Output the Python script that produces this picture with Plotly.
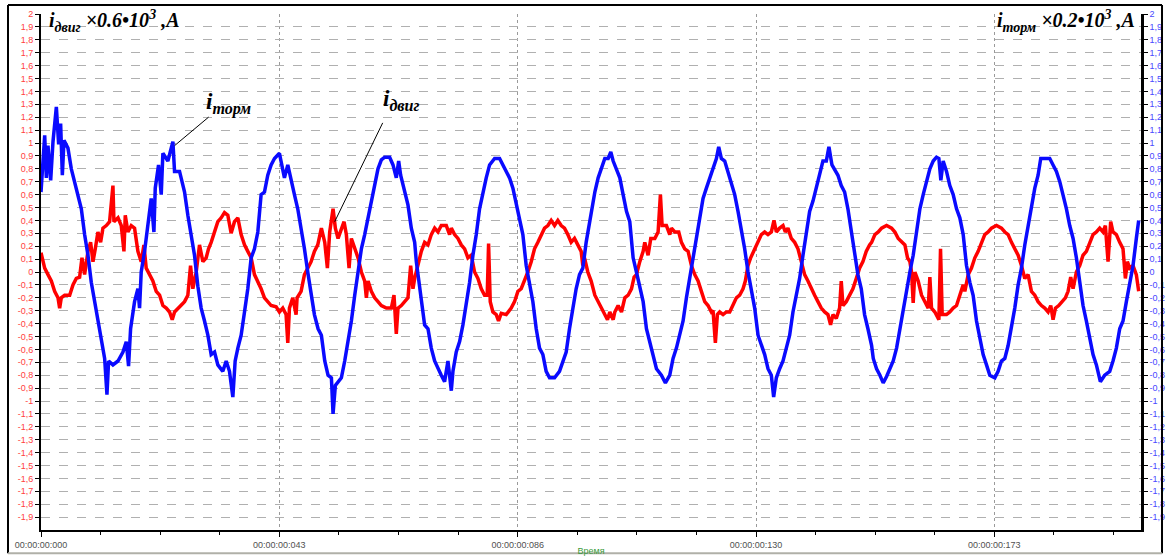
import plotly.graph_objects as go

# ---- data (time in ms, values in relative units) ----
t_torm = [0.0, 0.67, 0.97, 1.27, 1.76, 2.18, 2.79, 3.21, 3.57, 3.88, 4.18, 4.9, 5.51, 6.12, 6.72, 7.33, 7.93, 8.54, 9.14, 9.75,
          10.35, 10.96, 11.57, 11.99, 12.29, 13.08, 14.0, 14.9, 15.5, 15.92, 16.29, 17.01, 17.62, 17.92, 18.22, 18.83, 19.44,
          20.04, 20.53, 20.77, 21.37, 21.86, 22.16, 23.07, 23.98, 24.28, 25.19, 26.1, 26.7, 27.31, 27.91, 28.52, 29.12, 29.73,
          30.34, 30.94, 31.55, 32.15, 33.06, 33.67, 34.27, 34.88, 35.3, 35.79, 36.39, 37.0, 37.6, 38.21, 38.81, 39.42, 40.02,
          40.63, 41.23, 41.84, 42.45, 43.35, 44.26, 44.87, 45.47, 46.08, 46.68, 47.29, 47.9, 48.5, 49.11, 49.71, 50.38,
          50.98, 51.59, 52.19, 52.8, 53.1, 53.52, 54.01, 54.61, 55.22, 55.82, 56.43, 57.04, 57.64, 58.25, 58.85, 59.46, 60.06,
          60.67, 61.27, 61.88, 62.49, 63.39, 64.0, 64.6, 65.03, 65.39, 66.12, 66.72, 67.33, 67.94, 68.24, 68.54, 69.15, 69.75,
          70.36, 70.96, 71.57, 72.17, 72.78, 73.38, 73.99, 74.6, 74.9, 75.5, 76.11, 76.71, 77.32, 77.93, 78.53, 79.14, 79.74,
          80.35, 80.95, 81.56, 82.47, 83.38, 83.98, 84.59, 85.19, 85.8, 86.4, 87.01, 87.61, 88.22, 88.82, 89.43, 90.04, 90.64,
          91.25, 91.85, 92.46, 93.37, 94.27, 94.88, 95.49, 96.09, 96.7, 97.3, 97.91, 98.51, 99.12, 99.72,
          100.7, 101.3, 101.9, 102.51, 103.12, 103.6, 104.03, 104.63, 105.24, 105.84, 106.45, 107.05, 107.66, 108.26, 108.87,
          109.48, 110.08, 110.69, 111.29, 111.9, 112.8, 113.53, 114.32, 114.92, 115.53, 116.13, 116.74, 117.35, 117.95, 118.56,
          119.16, 119.77, 120.37, 120.98, 121.59, 122.19, 122.8, 123.22, 123.7, 124.31, 124.92, 125.52, 126.13, 126.73, 127.34,
          127.94, 128.55, 129.15, 129.76, 130.37, 130.97, 131.58, 132.18, 132.79, 133.21, 133.7, 134.3, 134.91, 135.51, 136.12,
          136.72, 137.33, 137.93, 138.54, 139.14, 139.75, 140.36, 140.96, 141.57, 142.17, 142.78, 143.26, 143.81, 144.29, 144.9,
          145.5, 146.11, 146.71, 147.32, 147.92, 148.53, 149.14, 149.74, 150.35,
          151.02, 151.32, 151.92, 152.53, 153.13, 153.74, 154.35, 154.95, 155.56, 156.16, 156.77, 157.37, 157.98, 158.58,
          159.19, 159.8, 160.4, 161.01, 161.61, 162.22, 162.82, 163.25, 163.61, 164.03, 164.64, 165.24, 165.85, 166.46, 167.06,
          167.67, 168.27, 168.88, 169.48, 170.09, 170.69, 171.3, 171.91, 172.51, 173.42, 174.02, 174.63, 175.24, 175.84, 176.45,
          177.05, 177.66, 178.26, 178.87, 179.47, 180.08, 180.69, 181.29, 181.77, 182.5, 183.41, 184.01, 184.62, 185.23, 185.83,
          186.44, 187.04, 187.65, 188.25, 188.86, 189.46, 190.07, 190.68, 191.28, 191.89, 192.61, 193.4, 194.31, 194.91, 195.52,
          196.13, 196.73, 197.34, 197.94, 198.55, 199.15, 199.58]
i_torm = [0.62, 1.06, 0.73, 0.98, 0.71, 1.01, 1.28, 0.99, 1.15, 0.75, 1.02, 0.96, 0.80, 0.70, 0.60, 0.49, 0.29, 0.13, -0.08, -0.23,
          -0.36, -0.49, -0.67, -0.95, -0.69, -0.72, -0.69, -0.62, -0.54, -0.73, -0.44, -0.23, -0.13, -0.28, 0.0, 0.16, 0.36,
          0.57, 0.31, 0.65, 0.83, 0.60, 0.92, 0.86, 1.01, 0.78, 0.78, 0.62, 0.44, 0.29, 0.13, -0.11, -0.28, -0.38,
          -0.49, -0.64, -0.62, -0.72, -0.77, -0.69, -0.77, -0.97, -0.69, -0.59, -0.49, -0.31, -0.13, 0.11, 0.18, 0.31, 0.60,
          0.62, 0.75, 0.83, 0.88, 0.92, 0.73, 0.83, 0.70, 0.60, 0.49, 0.34, 0.18, 0.0, -0.18, -0.33, -0.44,
          -0.49, -0.69, -0.80, -0.82, -1.10, -0.88, -0.85, -0.82, -0.69, -0.54, -0.38, -0.18, 0.0, 0.18, 0.29, 0.42, 0.55,
          0.70, 0.80, 0.87, 0.89, 0.89, 0.83, 0.73, 0.86, 0.75, 0.62, 0.52, 0.34, 0.23, 0.08, -0.02, -0.26, -0.41,
          -0.44, -0.59, -0.69, -0.75, -0.80, -0.85, -0.69, -0.92, -0.77, -0.62, -0.54, -0.41, -0.26, -0.08, 0.13, 0.29, 0.49,
          0.62, 0.73, 0.83, 0.88, 0.88, 0.83, 0.78, 0.73, 0.65, 0.52, 0.39, 0.29, 0.05, -0.10, -0.23, -0.44, -0.59,
          -0.64, -0.77, -0.82, -0.82, -0.77, -0.69, -0.62, -0.44, -0.28, -0.13, -0.02, 0.03, 0.23, 0.39,
          0.62, 0.73, 0.80, 0.88, 0.88, 0.93, 0.86, 0.80, 0.73, 0.60, 0.47, 0.39, 0.11, 0.0, -0.13,
          -0.23, -0.44, -0.54, -0.64, -0.75, -0.80, -0.86, -0.80, -0.67, -0.59, -0.49, -0.38, -0.20, -0.05, 0.13,
          0.29, 0.44, 0.57, 0.65, 0.73, 0.80, 0.88, 0.97, 0.88, 0.86, 0.78, 0.70, 0.60, 0.47, 0.34,
          0.18, 0.0, -0.15, -0.28, -0.49, -0.57, -0.64, -0.75, -0.80, -0.97, -0.82, -0.75, -0.69, -0.59, -0.49,
          -0.31, -0.18, -0.05, 0.13, 0.29, 0.47, 0.55, 0.65, 0.75, 0.86, 0.86, 0.97, 0.83, 0.80, 0.75,
          0.67, 0.62, 0.49, 0.31, 0.16, -0.02, -0.13, -0.33, -0.44,
          -0.57, -0.67, -0.75, -0.80, -0.86, -0.81, -0.75, -0.69, -0.59, -0.44, -0.28, -0.15, 0.0, 0.13,
          0.29, 0.49, 0.60, 0.70, 0.80, 0.86, 0.89, 0.88, 0.71, 0.86, 0.78, 0.67, 0.60, 0.49, 0.42,
          0.29, 0.05, -0.08, -0.18, -0.38, -0.51, -0.64, -0.72, -0.80, -0.82, -0.77, -0.69, -0.67, -0.57, -0.44,
          -0.28, -0.10, 0.03, 0.21, 0.36, 0.49, 0.65, 0.75, 0.88, 0.88, 0.88, 0.83, 0.78, 0.70, 0.60,
          0.49, 0.36, 0.26, 0.11, -0.08, -0.26, -0.38, -0.51, -0.64, -0.72, -0.85, -0.80, -0.77, -0.69, -0.59,
          -0.44, -0.38, -0.23, -0.08, 0.05, 0.26, 0.40]

t_dvig = [0.0, 0.67, 1.27, 1.88, 2.48, 3.09, 3.39, 3.69, 4.3, 5.21, 5.81, 6.42, 7.02, 7.45, 7.93, 8.54, 9.02, 9.45, 9.87,
          10.35, 10.84, 11.26, 11.87, 12.47, 13.08, 13.26, 14.0, 14.59, 15.08, 15.32, 15.8, 16.41, 17.01, 17.32, 17.62, 18.22,
          18.71, 19.13, 19.74, 20.34, 20.95, 21.56, 22.16, 22.77, 23.37, 23.86, 24.28, 24.89, 25.49, 26.1, 26.7, 27.19, 27.61,
          28.22, 28.82, 29.43, 30.03, 30.46, 30.94, 31.55, 32.15, 32.76, 33.36, 33.97, 34.57, 35.18, 35.79, 36.39, 37.0, 37.6,
          38.21, 38.81, 39.42, 40.02, 40.63, 41.23, 41.84, 42.75, 43.35, 43.96, 44.56, 44.87, 45.17, 45.78, 46.38, 46.56, 47.29,
          47.9, 48.5, 49.11, 49.71, 50.32,
          50.98, 51.59, 52.07, 52.49, 53.1, 53.52, 54.01, 54.61, 55.1, 55.52, 56.01, 56.43, 57.04, 57.64, 58.25, 58.85, 59.16,
          59.46, 60.06, 60.67, 61.27, 61.88, 62.79, 63.7, 64.18, 64.6, 64.91, 65.51, 66.12, 66.72, 67.21, 67.63, 67.94, 68.54,
          69.15, 69.75, 70.36, 70.96, 71.57, 72.17, 72.78, 73.69, 74.29, 74.6, 75.2, 75.81, 76.41, 77.02, 77.62, 78.23, 78.83,
          79.44, 80.05, 80.65, 81.13, 81.38, 81.68, 82.16, 82.77, 83.19, 83.68, 84.59, 85.49, 86.1, 86.71, 87.31, 87.92, 88.52,
          89.13, 89.73, 90.34, 90.94, 91.55, 92.16, 92.76, 93.37, 93.97, 94.58, 95.18, 95.79, 96.39, 97.0, 97.6, 98.21, 98.51,
          98.82, 99.42, 100.03,
          100.7, 101.3, 101.9, 102.51, 103.0, 103.42, 104.03, 104.33, 104.93, 105.54, 106.15, 106.75, 107.36, 107.84, 108.26,
          108.87, 109.48, 109.78, 110.38, 110.87, 111.6, 112.2, 112.62, 112.93, 113.71, 114.32, 114.62, 115.23, 115.95, 116.44,
          117.04, 117.65, 118.26, 118.86, 119.47, 120.07, 120.68, 121.28, 121.89, 122.19, 122.61, 122.98, 123.4, 124.01, 124.61,
          125.22, 125.82, 126.43, 127.03, 127.64, 128.06, 128.55, 129.03, 129.76, 130.37, 130.97, 131.58, 132.18, 132.79, 133.27,
          133.7, 134.3, 134.91, 135.33, 135.81, 136.42, 137.03, 137.63, 138.24, 138.84, 139.45, 140.05, 140.66, 141.26, 141.87,
          142.48, 143.08, 143.56, 143.99, 144.59, 145.2, 145.5, 145.81, 146.41, 147.02, 147.62, 148.23, 148.83, 149.44, 150.04,
          150.65,
          151.02, 151.62, 152.23, 152.83, 153.74, 154.65, 155.25, 155.86, 156.47, 157.07, 157.55, 157.98, 158.28, 158.58, 158.89,
          159.49, 160.1, 160.7, 161.31, 161.61, 161.91, 162.52, 163.25, 163.55, 163.85, 164.64, 165.24, 165.85, 166.46, 167.06,
          167.67, 167.97, 168.58, 169.18, 169.79, 170.39, 171.0, 171.6, 172.21, 172.81, 173.72, 174.63, 175.24, 175.84, 176.45,
          177.05, 177.66, 178.26, 178.87, 179.47, 180.08, 180.69, 181.29, 181.9, 182.5, 183.11, 183.59, 184.01, 184.44, 185.04,
          185.65, 186.25, 186.74, 187.22, 187.65, 188.25, 188.86, 189.46, 190.07, 190.68, 191.28, 191.89, 192.49, 193.1, 193.52,
          194.01, 194.49, 194.91, 195.52, 196.13, 196.73, 197.16, 197.52, 197.94, 198.55, 199.15, 199.58]
i_dvig = [0.15, 0.03, -0.02, -0.07, -0.15, -0.20, -0.28, -0.20, -0.18, -0.18, -0.10, -0.05, -0.04, 0.11, -0.02, 0.16, 0.23, 0.08, 0.18,
          0.31, 0.23, 0.34, 0.36, 0.39, 0.67, 0.39, 0.42, 0.36, 0.16, 0.44, 0.31, 0.36, 0.34, 0.23, 0.16, 0.08,
          0.21, 0.03, -0.02, -0.07, -0.15, -0.18, -0.26, -0.28, -0.31, -0.37, -0.31, -0.28, -0.26, -0.23, -0.18, 0.05, -0.13,
          0.0, 0.21, 0.08, 0.11, 0.18, 0.23, 0.31, 0.39, 0.42, 0.46, 0.44, 0.30, 0.39, 0.42, 0.29, 0.21, 0.16,
          0.11, -0.02, -0.07, -0.13, -0.20, -0.23, -0.26, -0.27, -0.31, -0.28, -0.33, -0.55, -0.28, -0.20, -0.33, -0.20, -0.15,
          -0.02, 0.03, 0.08, 0.16, 0.21,
          0.34, 0.23, 0.03, 0.31, 0.49, 0.34, 0.26, 0.34, 0.39, 0.29, 0.03, 0.26, 0.18, 0.11, 0.0, -0.07, -0.20,
          -0.07, -0.15, -0.20, -0.23, -0.26, -0.28, -0.28, -0.18, -0.48, -0.28, -0.26, -0.23, -0.20, 0.05, -0.13, -0.05, 0.05,
          0.16, 0.23, 0.21, 0.29, 0.34, 0.31, 0.36, 0.36, 0.29, 0.34, 0.29, 0.26, 0.21, 0.18, 0.11, 0.13, 0.0,
          -0.05, -0.13, -0.18, -0.18, 0.22, -0.23, -0.31, -0.33, -0.38, -0.32, -0.33, -0.28, -0.23, -0.15, -0.13, -0.07, 0.0,
          0.08, 0.18, 0.23, 0.29, 0.34, 0.36, 0.40, 0.36, 0.40, 0.36, 0.34, 0.29, 0.23, 0.26, 0.21, 0.16, 0.05,
          0.11, 0.0, -0.07,
          -0.18, -0.23, -0.28, -0.33, -0.37, -0.31, -0.37, -0.31, -0.26, -0.31, -0.20, -0.18, -0.13, -0.04, -0.02,
          0.08, 0.16, 0.23, 0.13, 0.26, 0.26, 0.31, 0.60, 0.36, 0.36, 0.29, 0.34, 0.31, 0.31, 0.23,
          0.18, 0.16, 0.05, -0.02, -0.07, -0.15, -0.23, -0.26, -0.31, -0.30, -0.55, -0.33, -0.31, -0.33, -0.31,
          -0.31, -0.26, -0.20, -0.18, -0.13, -0.07, 0.05, 0.11, 0.18, 0.23, 0.29, 0.31, 0.29, 0.31, 0.40,
          0.31, 0.34, 0.36, 0.31, 0.34, 0.26, 0.23, 0.18, 0.08, -0.02, -0.07, -0.13, -0.18, -0.23, -0.28,
          -0.31, -0.33, -0.41, -0.33, -0.36, -0.28, -0.07, -0.26, -0.23, -0.18, -0.13, -0.05, 0.03, 0.08, 0.16,
          0.21,
          0.23, 0.29, 0.31, 0.34, 0.36, 0.34, 0.31, 0.26, 0.23, 0.21, 0.11, 0.08, 0.0, -0.24, 0.0,
          -0.07, -0.18, -0.23, -0.28, -0.04, -0.28, -0.31, -0.37, 0.18, -0.33, -0.33, -0.31, -0.28, -0.26, -0.18,
          -0.10, -0.15, -0.02, 0.03, 0.11, 0.16, 0.23, 0.29, 0.31, 0.34, 0.36, 0.34, 0.31, 0.29, 0.23,
          0.18, 0.13, 0.05, -0.05, -0.02, -0.15, -0.18, -0.23, -0.26, -0.28, -0.31, -0.26, -0.37, -0.28, -0.26,
          -0.23, -0.20, -0.15, -0.04, -0.13, 0.0, 0.05, 0.13, 0.16, 0.23, 0.29, 0.31, 0.34, 0.31, 0.36,
          0.08, 0.39, 0.31, 0.29, 0.23, 0.18, -0.05, 0.08, 0.03, 0.05, -0.02, -0.15]

x_tick_vals = [0.0, 43.333, 86.667, 130.0, 173.333]
x_tick_text = ["00:00:00:000", "00:00:00:043", "00:00:00:086", "00:00:00:130", "00:00:00:173"]
y_tick_vals = [round(-1.9 + 0.1 * k, 1) for k in range(40)]
y_tick_text = [f"{v:g}".replace(".", ",") for v in y_tick_vals]

RED = "#ff0000"
BLUE = "#0a0aff"
SERIF = "Liberation Serif"
SANS = "Liberation Sans"

fig = go.Figure()
fig.add_trace(go.Scatter(x=t_dvig, y=i_dvig, mode="lines", name="i двиг",
                         line=dict(color=RED, width=3.5), yaxis="y"))
fig.add_trace(go.Scatter(x=t_torm, y=i_torm, mode="lines", name="i торм",
                         line=dict(color=BLUE, width=3.5), yaxis="y2"))

yaxis_common = dict(range=[-2, 2], tickmode="array", tickvals=y_tick_vals, ticktext=y_tick_text,
                    ticks="outside", ticklen=4, tickwidth=1, tickcolor="#000000",
                    showline=True, linecolor="#000000", zeroline=False,
                    fixedrange=True, automargin=False)

fig.update_layout(
    width=1168, height=556,
    margin=dict(l=41, r=27, t=14, b=26, autoexpand=False),
    paper_bgcolor="#ffffff", plot_bgcolor="#ffffff",
    showlegend=False,
    xaxis=dict(range=[0, 200], tickmode="array", tickvals=x_tick_vals, ticktext=x_tick_text,
               ticks="outside", ticklen=5, tickcolor="#000000", automargin=False,
               tickfont=dict(family=SANS, size=9, color="#505050"),
               showline=True, linecolor="#000000", linewidth=2, zeroline=False,
               showgrid=True, gridcolor="#9a9a9a", griddash="dot", gridwidth=1,
               minor=dict(tickmode="linear", tick0=0, dtick=130 / 12, ticks="outside", ticklen=3,
                          tickcolor="#000000", showgrid=False),
               title=dict(text="Время", font=dict(family=SANS, size=9, color="#3a9a3a"), standoff=0)),
    yaxis=dict(**yaxis_common, side="left", linewidth=2,
               tickfont=dict(family=SANS, size=9, color="#ff4040"),
               showgrid=True, gridcolor="#b0b0b0", griddash="dash", gridwidth=1),
    yaxis2=dict(**yaxis_common, side="right", overlaying="y", linewidth=2.5,
                tickfont=dict(family=SANS, size=9, color="#4848ff"),
                showgrid=False),
)

# header labels
fig.add_annotation(xref="paper", yref="paper", x=0.005, y=1.0, xanchor="left", yanchor="top", yshift=9,
                   showarrow=False,
                   text="<b><i>i</i></b><sub><b><i>двиг</i></b></sub><b><i> ×0.6•10<sup>3</sup> ,A</i></b>",
                   font=dict(family=SERIF, size=20, color="#000000"))
fig.add_annotation(xref="paper", yref="paper", x=0.9965, y=1.0, xanchor="right", yanchor="top", yshift=9,
                   showarrow=False,
                   text="<b><i>i</i></b><sub><b><i>торм</i></b></sub><b><i> ×0.2•10<sup>3</sup> ,A</i></b>",
                   font=dict(family=SERIF, size=20, color="#000000"))

# curve labels with leader lines
fig.add_annotation(x=29.6, y=1.31, xref="x", yref="y", xanchor="left", yanchor="middle", showarrow=False,
                   text="<b><i>i</i></b><sub><b><i>торм</i></b></sub>",
                   font=dict(family=SERIF, size=23, color="#000000"))
fig.add_annotation(x=61.8, y=1.33, xref="x", yref="y", xanchor="left", yanchor="middle", showarrow=False,
                   text="<b><i>i</i></b><sub><b><i>двиг</i></b></sub>",
                   font=dict(family=SERIF, size=23, color="#000000"))
fig.add_annotation(x=24.3, y=0.98, xref="x", yref="y", text=" ", showarrow=True, arrowhead=0,
                   arrowwidth=1, arrowcolor="#000000", ax=37, ay=-31, standoff=0, startstandoff=0)
fig.add_annotation(x=53.4, y=0.39, xref="x", yref="y", text=" ", showarrow=True, arrowhead=0,
                   arrowwidth=1, arrowcolor="#000000", ax=51, ay=-105, standoff=0, startstandoff=0)

# outer frame
fig.add_shape(type="line", xref="paper", yref="paper", x0=-0.03, x1=-0.03, y0=-0.045, y1=1.0174,
              line=dict(color="#000000", width=2))
fig.add_shape(type="line", xref="paper", yref="paper", x0=-0.03, x1=1.0191, y0=1.0174, y1=1.0174,
              line=dict(color="#000000", width=2))
fig.add_shape(type="line", xref="paper", yref="paper", x0=1.0191, x1=1.0191, y0=-0.045, y1=1.0174,
              line=dict(color="#000000", width=2))
fig.add_shape(type="line", xref="paper", yref="paper", x0=-0.03, x1=1.0191, y0=-0.045, y1=-0.045,
              line=dict(color="#b0b0a8", width=2))

fig.write_html("out.html", config={"displayModeBar": False},
               post_script="document.body.style.margin='0';document.body.style.overflow='hidden';")
